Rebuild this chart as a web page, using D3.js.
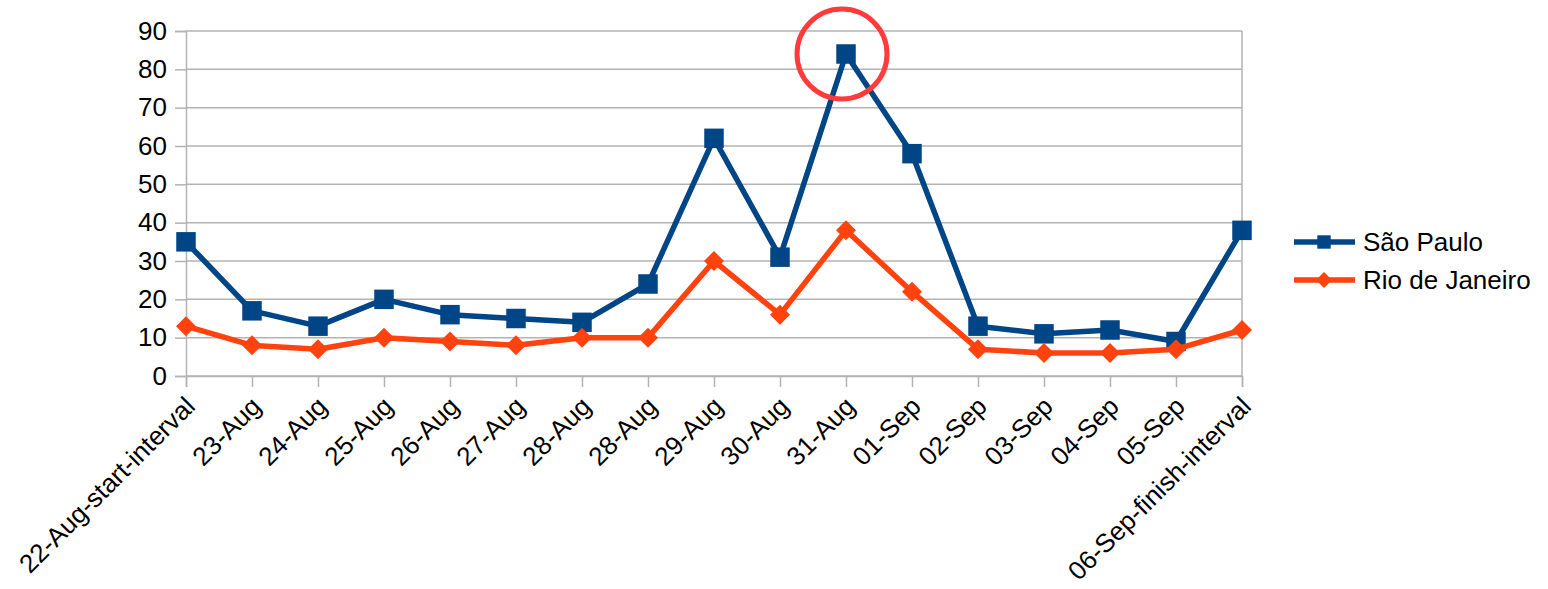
<!DOCTYPE html>
<html>
<head>
<meta charset="utf-8">
<script src="https://cdn.jsdelivr.net/npm/d3@7"></script>
<style>
  body { margin: 0; background: #fff; }
  svg { display: block; font-family: "Liberation Sans", Arial, sans-serif; }
</style>
</head>
<body>
<div class="chart"></div>
<script>
var width = 1548;
var height = 589;

var categories = ['22-Aug-start-interval', '23-Aug', '24-Aug', '25-Aug', '26-Aug', '27-Aug', '28-Aug', '28-Aug',
  '29-Aug', '30-Aug', '31-Aug', '01-Sep', '02-Sep', '03-Sep', '04-Sep', '05-Sep', '06-Sep-finish-interval'];
var saoPaulo = [35, 17, 13, 20, 16, 15, 14, 24, 62, 31, 84, 58, 13, 11, 12, 9, 38];
var rioDeJaneiro = [13, 8, 7, 10, 9, 8, 10, 10, 30, 16, 38, 22, 7, 6, 6, 7, 12];
var yTicks = [0, 10, 20, 30, 40, 50, 60, 70, 80, 90];

var series = [
  {name: 'São Paulo', values: saoPaulo, color: '#004586', marker: 'square'},
  {name: 'Rio de Janeiro', values: rioDeJaneiro, color: '#ff420e', marker: 'diamond'}
];

var plotLeft = 186, plotRight = 1242, plotTop = 31, plotBottom = 376;

var x = d3.scalePoint().domain(d3.range(categories.length)).range([plotLeft, plotRight]);
var y = d3.scaleLinear().domain([0, 90]).range([plotBottom, plotTop]);

var svg = d3.select('.chart').append('svg')
  .attr('width', width)
  .attr('height', height);

// gridlines
svg.append('g').selectAll('line')
  .data(yTicks)
  .enter().append('line')
    .attr('x1', plotLeft).attr('x2', plotRight)
    .attr('y1', d => y(d)).attr('y2', d => y(d))
    .attr('stroke', '#b3b3b3')
    .attr('stroke-width', 1.5);

// right border
svg.append('line')
  .attr('x1', plotRight).attr('x2', plotRight)
  .attr('y1', plotTop).attr('y2', plotBottom)
  .attr('stroke', '#b3b3b3').attr('stroke-width', 1.5);

// y axis
var yAxis = svg.append('g')
  .attr('transform', `translate(${plotLeft},0)`)
  .call(d3.axisLeft(y).tickValues(yTicks).tickSize(11).tickPadding(8));
yAxis.select('.domain').attr('stroke', '#b3b3b3').attr('stroke-width', 1.5);
yAxis.selectAll('.tick line').attr('stroke', '#b3b3b3').attr('stroke-width', 1.5);
yAxis.selectAll('text')
  .style('font-size', '26px')
  .attr('fill', '#000')
  .attr('font-family', '"Liberation Sans", Arial, sans-serif');

// x axis
var xAxis = svg.append('g')
  .attr('transform', `translate(0,${plotBottom})`)
  .call(d3.axisBottom(x).tickSize(11).tickFormat(i => categories[i]));
xAxis.select('.domain').attr('stroke', '#b3b3b3').attr('stroke-width', 1.5);
xAxis.selectAll('.tick line').attr('stroke', '#b3b3b3').attr('stroke-width', 1.5);
xAxis.selectAll('text')
  .style('font-size', '26px')
  .attr('fill', '#000')
  .attr('font-family', '"Liberation Sans", Arial, sans-serif')
  .attr('text-anchor', 'end')
  .attr('y', 0)
  .attr('dy', 0)
  .attr('transform', 'translate(10,32) rotate(-45)');

var line = d3.line()
  .x((d, i) => x(i))
  .y(d => y(d));

var square = d3.symbol().type(d3.symbolSquare).size(380);
var diamond = d => `M0,-${d}L${d},0L0,${d}L-${d},0Z`;

series.forEach(s => {
  svg.append('path')
    .datum(s.values)
    .attr('fill', 'none')
    .attr('stroke', s.color)
    .attr('stroke-width', 5.5)
    .attr('stroke-linejoin', 'round')
    .attr('d', line);

  svg.append('g').selectAll('path')
    .data(s.values)
    .enter().append('path')
      .attr('transform', (d, i) => `translate(${x(i)},${y(d)})`)
      .attr('fill', s.color)
      .attr('d', s.marker === 'square' ? square() : diamond(10));
});

// highlight circle around the peak
var peak = d3.maxIndex(saoPaulo);
svg.append('circle')
  .attr('cx', x(peak) - 4)
  .attr('cy', y(saoPaulo[peak]))
  .attr('r', 45)
  .attr('fill', 'none')
  .attr('stroke', '#ff3b3b')
  .attr('stroke-width', 5);

// legend
var legend = svg.append('g')
  .attr('transform', 'translate(1294,242)');

var item = legend.selectAll('g')
  .data(series)
  .enter().append('g')
    .attr('transform', (d, i) => `translate(0,${i * 38})`);

item.append('line')
  .attr('x1', 0).attr('x2', 61)
  .attr('stroke', d => d.color)
  .attr('stroke-width', 5.5);

item.append('path')
  .attr('transform', 'translate(30,0)')
  .attr('fill', d => d.color)
  .attr('d', d => d.marker === 'square' ? d3.symbol().type(d3.symbolSquare).size(180)() : diamond(8));

item.append('text')
  .attr('x', 69)
  .attr('dy', '0.35em')
  .style('font-size', '26px')
  .attr('fill', '#000')
  .text(d => d.name);
</script>
</body>
</html>
